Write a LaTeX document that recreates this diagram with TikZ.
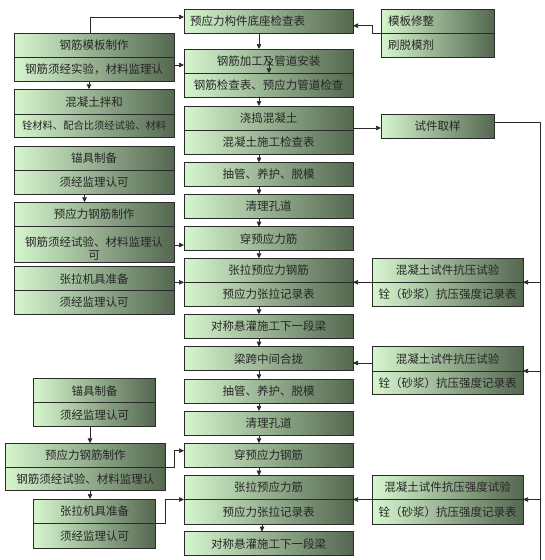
\documentclass[tikz,border=0pt]{standalone}
\usepackage{fontspec}
\setmainfont{Noto Sans CJK SC}
\usetikzlibrary{arrows.meta}
\definecolor{gl}{HTML}{D6F6CE}
\definecolor{gd}{HTML}{546850}
\definecolor{ln}{HTML}{2A2A2A}
\tikzset{
  gbox/.style={draw=ln, line width=0.7pt, left color=gl, right color=gd, anchor=north west, inner sep=0pt, outer sep=0pt},
  txt/.style={text=black!85, font=\fontsize{11.5}{13}\selectfont, inner sep=0pt, align=center},
  divl/.style={draw=ln, line width=0.7pt},
  conn/.style={draw=ln, line width=0.7pt},
  arr/.style={draw=ln, line width=0.7pt, -{Triangle[length=5pt,width=4.5pt]}}
}
\newcommand\twobox[8]{%
  \node[gbox, minimum width={(#4-#2)*1pt}, minimum height={(#5-#3)*1pt}] (#1) at (#2,#3) {};
  \draw[divl] (#1.west |- 0,#6) -- (#1.east |- 0,#6);
  \node[txt] (#1-a) at ({(#2+#4)/2},{(#3+#6)/2}) {#7};
  \node[txt] (#1-b) at ({(#2+#4)/2},{(#6+#5)/2}) {#8};
}
\newcommand\onebox[6]{%
  \node[gbox, minimum width={(#4-#2)*1pt}, minimum height={(#5-#3)*1pt}] (#1) at (#2,#3) {};
  \node[txt] (#1-a) at ({(#2+#4)/2},{(#3+#5)/2}) {#6};
}
\begin{document}
\begin{tikzpicture}[x=1pt,y=-1pt]
\fill[white] (0,0) rectangle (545,560);
\useasboundingbox (0,0) rectangle (545,560);

% centre column
\node[gbox, minimum width=169pt, minimum height=24pt] (C1) at (184,9) {};
\node[txt, anchor=west] (C1-a) at (190,21) {预应力构件底座检查表};
\twobox{C2}{184}{49}{353}{97}{73.3}{钢筋加工及管道安装}{钢筋检查表、预应力管道检查}
\twobox{C3}{184}{106}{353}{154}{130}{浇捣混凝土}{混凝土施工检查表}
\onebox{C4}{184}{162.5}{353}{186.5}{抽管、养护、脱模}
\onebox{C5}{184}{194.5}{353}{218.5}{清理孔道}
\onebox{C6}{184}{226.7}{353}{250.7}{穿预应力筋}
\twobox{C7}{184}{258.3}{353}{306}{282.3}{张拉预应力钢筋}{预应力张拉记录表}
\onebox{C8}{184}{314.3}{353}{338.3}{对称悬灌施工下一段梁}
\onebox{C9}{184}{346.7}{353}{370.7}{梁跨中间合拢}
\onebox{C10}{184}{379.3}{353}{403.3}{抽管、养护、脱模}
\onebox{C11}{184}{411}{353}{435}{清理孔道}
\onebox{C12}{184}{443.3}{353}{467.3}{穿预应力钢筋}
\twobox{C13}{184}{475.7}{353}{524}{499.5}{张拉预应力筋}{预应力张拉记录表}
\onebox{C14}{184}{531.7}{353}{555.7}{对称悬灌施工下一段梁}

% left column
\twobox{L1}{14}{33.3}{174.3}{81.7}{57}{钢筋模板制作}{钢筋须经实验，材料监理认}
\twobox{L2}{14}{89.3}{174.3}{137.3}{114}{混凝土拌和}{{\fontsize{10.3}{12}\selectfont 铨材料、配合比须经试验、材料}}
\twobox{L3}{14}{146}{174.3}{194}{170}{锚具制备}{须经监理认可}
\node[gbox, minimum width=160.3pt, minimum height=60pt] (L4) at (14,202.3) {};
\draw[divl] (L4.west |- 0,226.7) -- (L4.east |- 0,226.7);
\node[txt] (L4-a) at (94.2,214.5) {预应力钢筋制作};
\node[txt, font=\fontsize{11.5}{12.5}\selectfont] (L4-b) at (94.2,248.5) {钢筋须经试验、材料监理认\\可};
\twobox{L5}{14}{266.7}{174.3}{314}{290.7}{张拉机具准备}{须经监理认可}
\twobox{L6}{33.5}{378.7}{155.7}{426.7}{402.7}{锚具制备}{须经监理认可}
\twobox{L7}{5}{443.3}{165.7}{490.7}{467.3}{预应力钢筋制作}{钢筋须经试验、材料监理认}
\twobox{L8}{33.5}{499}{155.7}{548}{523.3}{张拉机具准备}{须经监理认可}

% right column
\node[gbox, minimum width=113pt, minimum height=48pt] (R0) at (381,9) {};
\draw[divl] (R0.west |- 0,33) -- (R0.east |- 0,33);
\node[txt, anchor=west] (R0-a) at (388,21) {模板修整};
\node[txt, anchor=west] (R0-b) at (388,45) {刷脱模剂};
\onebox{R1}{381}{114}{494}{138}{试件取样}
\twobox{R2}{372}{258.3}{523}{306}{282.3}{混凝土试件抗压试验}{铨（砂浆）抗压强度记录表}
\twobox{R3}{372}{346.7}{523}{394.3}{371}{混凝土试件抗压试验}{铨（砂浆）抗压强度记录表}
\twobox{R4}{372}{475.7}{523}{524}{499.5}{混凝土试件抗压强度试验}{铨（砂浆）抗压强度记录表}

% connectors: centre chain
\foreach \a/\b in {C1/C2,C2/C3,C3/C4,C4/C5,C5/C6,C6/C7,C7/C8,C8/C9,C9/C10,C10/C11,C11/C12,C12/C13}
  \draw[arr] (\a.south -| 259,0) -- (\b.north -| 259,0);
\draw[arr] (C13.south -| 262,0) -- (C14.north -| 262,0);
\coordinate (C2in) at (269,61);
\draw[arr] (C2in) -- (C2in |- 0,73.3);

% left side connectors
\draw[arr] (L1.north -| 90,0) |- (C1.west |- 0,17);
\draw[arr] (L1.east |- 0,65) -- (C2.west |- 0,65);
\draw[arr] (L1.south -| 89,0) -- (L2.north -| 89,0);
\draw[arr] (L3.south -| 84.5,0) -- (L4.north -| 84.5,0);
\draw[arr] (L4.east |- 0,245) -- (C6.west |- 0,245);
\draw[arr] (L5.east |- 0,282.3) -- (C7.west |- 0,282.3);
\draw[arr] (L6.south -| 90,0) -- (L7.north -| 90,0);
\draw[arr] (L7.south -| 90,0) -- (L8.north -| 90,0);
\draw[arr] (L7.east |- 0,467.3) -- (174.3,467.3) |- (C12.west |- 0,450.7);
\draw[arr] (L8.east |- 0,523.3) -- (165.7,523.3) |- (C13.west |- 0,499.5);

% right side connectors
\draw[arr] (R0.west |- 0,33) -- (372,33) |- (C1.east |- 0,25.7);
\draw[arr] (C3.east |- 0,128) -- (R1.west |- 0,128);
\coordinate (vb) at (540,560);
\draw[conn] (R1.east |- 0,122) -| (vb);
\draw[arr] (vb |- 0,282.3) -- (R2.east |- 0,282.3);
\draw[arr] (vb |- 0,371) -- (R3.east |- 0,371);
\draw[arr] (vb |- 0,499.5) -- (R4.east |- 0,499.5);
\draw[arr] (R2.west |- 0,282.3) -- (C7.east |- 0,282.3);
\draw[arr] (R3.west |- 0,363) -- (C9.east |- 0,363);
\draw[arr] (R4.west |- 0,499.5) -- (C13.east |- 0,499.5);
\end{tikzpicture}
\end{document}
